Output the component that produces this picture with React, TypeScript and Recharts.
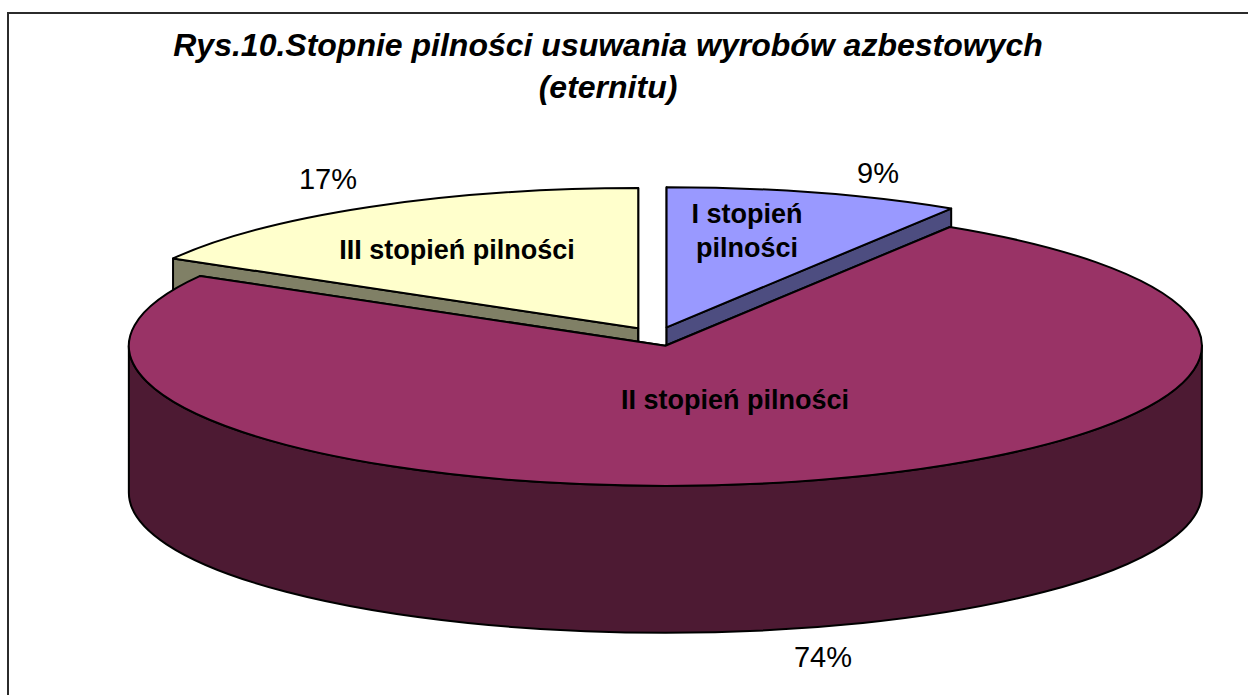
import { Pie, PieChart } from "recharts"

const categories = ["III stopień pilności", "I stopień pilności", "II stopień pilności"]
const shares = [16.7, 8.9, 74.4]
const topColors = ["#FFFFCC", "#9999FF", "#993366"]
const wallColors = ["#808066", "#4D4D80", "#4D1A33"]
const titleLines = ["Rys.10.Stopnie pilności usuwania wyrobów azbestowych", "(eternitu)"]

const data = categories.map((name, i) => ({ name, value: shares[i] }))

// slice III sits left of 12 o'clock, and II has to be painted last
const START_ANGLE = 90 + (shares[0] / 100) * 360

const RADIUS = 536.5
const SQUASH = 140 / 536
const DEPTH = 147
const EXPLODE = 0.068

const FONT = "'Liberation Sans', Arial, sans-serif"

const percentSpots = [
  { x: 328, y: 189 },
  { x: 878, y: 183 },
  { x: 823, y: 667 },
]
const nameSpots = [
  { x: 457, y: 259, lines: ["III stopień pilności"] },
  { x: 747, y: 223, lines: ["I stopień", "pilności"] },
  { x: 735, y: 409, lines: ["II stopień pilności"] },
]

const rad = (deg: number) => (deg * Math.PI) / 180

function Slice3D(props: any) {
  const { startAngle, endAngle, index } = props
  const mid = (startAngle + endAngle) / 2
  const cx = props.cx + RADIUS * EXPLODE * Math.cos(rad(mid))
  const cy = props.cy - RADIUS * SQUASH * EXPLODE * Math.sin(rad(mid))
  const ry = RADIUS * SQUASH
  const px = (a: number) => cx + RADIUS * Math.cos(rad(a))
  const py = (a: number) => cy - ry * Math.sin(rad(a))
  const large = startAngle - endAngle > 180 ? 1 : 0
  const line = { stroke: "#000", strokeWidth: 2, strokeLinejoin: "round" as const }

  const face = (a: number) =>
    `M${cx},${cy} L${px(a)},${py(a)} L${px(a)},${py(a) + DEPTH} L${cx},${cy + DEPTH} Z`

  // only the front half of the rim can be seen
  const from = Math.min(startAngle, 0)
  const to = Math.max(endAngle, -180)
  const rim =
    from > to
      ? `M${px(from)},${py(from)} A${RADIUS},${ry} 0 0 1 ${px(to)},${py(to)} ` +
        `L${px(to)},${py(to) + DEPTH} A${RADIUS},${ry} 0 0 0 ${px(from)},${py(from) + DEPTH} Z`
      : null

  return (
    <g>
      <path d={face(startAngle)} fill={wallColors[index]} {...line} />
      <path d={face(endAngle)} fill={wallColors[index]} {...line} />
      {rim && <path d={rim} fill={wallColors[index]} {...line} />}
      <path
        d={`M${cx},${cy} L${px(startAngle)},${py(startAngle)} A${RADIUS},${ry} 0 ${large} 1 ${px(endAngle)},${py(endAngle)} Z`}
        fill={topColors[index]}
        {...line}
      />
    </g>
  )
}

function SliceLabel({ index }: any) {
  const spot = nameSpots[index]
  const pct = percentSpots[index]
  return (
    <g fontFamily={FONT} fill="#000" textAnchor="middle">
      <text x={pct.x} y={pct.y} fontSize={29}>
        {Math.round(shares[index])}%
      </text>
      <text x={spot.x} y={spot.y} fontSize={27} fontWeight="bold">
        {spot.lines.map((l, i) => (
          <tspan key={l} x={spot.x} dy={i === 0 ? 0 : 34}>
            {l}
          </tspan>
        ))}
      </text>
    </g>
  )
}

export default function App() {
  return (
    <div style={{ position: "absolute", left: 0, top: 0, width: 1248, height: 695, overflow: "hidden", background: "#fff" }}>
      {/* frame runs off the right and bottom of the picture */}
      <div
        style={{
          position: "absolute",
          left: 7,
          top: 12,
          width: 1300,
          height: 720,
          border: "2px solid #2b2b2b",
        }}
      />
      <div style={{ position: "absolute", left: 0, top: 0 }}>
        <PieChart width={1248} height={695} margin={{ top: 0, right: 0, bottom: 0, left: 0 }}>
          <text fontFamily={FONT} fontSize={32} fontWeight="bold" fontStyle="italic" textAnchor="middle" fill="#000">
            <tspan x={608} y={56}>
              {titleLines[0]}
            </tspan>
            <tspan x={608} y={98}>
              {titleLines[1]}
            </tspan>
          </text>
          <Pie
            data={data}
            dataKey="value"
            nameKey="name"
            cx={656.5}
            cy={336.5}
            innerRadius={0}
            outerRadius={RADIUS}
            startAngle={START_ANGLE}
            endAngle={START_ANGLE - 360}
            shape={Slice3D}
            label={SliceLabel}
            labelLine={false}
            isAnimationActive={false}
          />
        </PieChart>
      </div>
    </div>
  )
}
